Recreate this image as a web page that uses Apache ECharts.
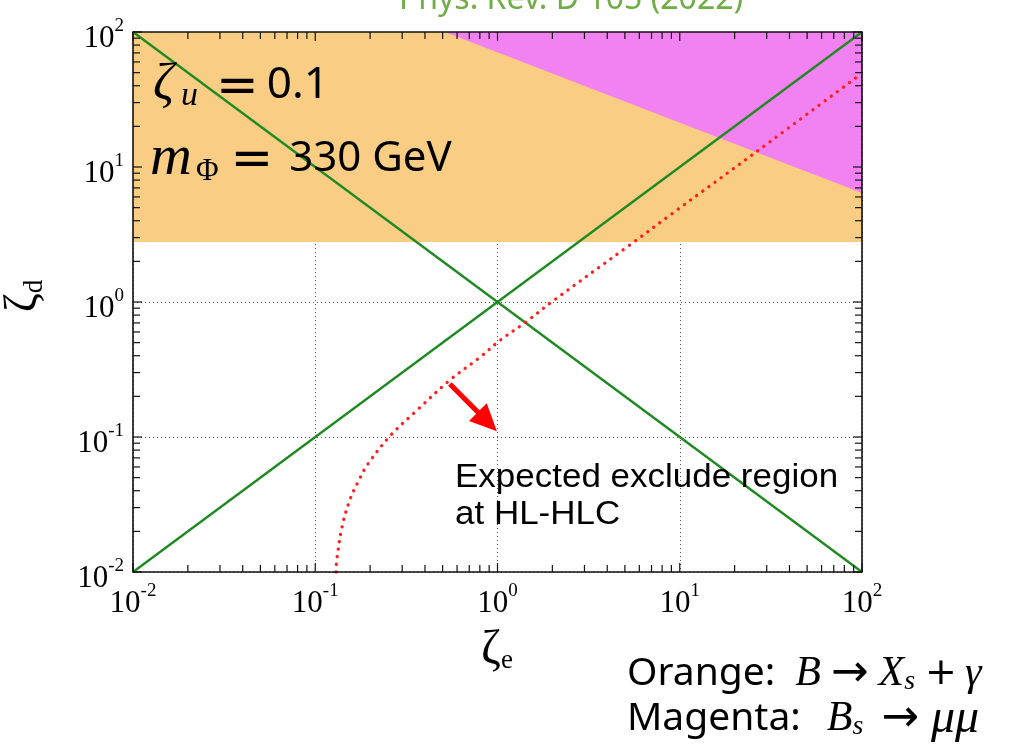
<!DOCTYPE html>
<html>
<head>
<meta charset="utf-8">
<script src="https://cdn.jsdelivr.net/npm/echarts@6/dist/echarts.min.js"></script>
<style>
  html, body { margin: 0; padding: 0; background: #ffffff; }
  #chart { width: 1017px; height: 744px; }
</style>
</head>
<body>
<div id="chart"></div>
<script>
// Axis ranges (log10 decades) and tick layout
const axisMin = 0.01;
const axisMax = 100;
const decadeExponents = [-2, -1, 0, 1, 2];
const minorMultipliers = [2, 3, 4, 5, 6, 7, 8, 9];

// Excluded by B -> Xs gamma: everything above this zeta_d
const orangeLowerEdge = 2.78;
// Excluded by Bs -> mu mu: above the straight (log-log) edge through these points
const magentaEdgeTop = [0.514, 100];
const magentaEdgeRight = [100, 6.41];

// Reference lines zeta_d = zeta_e and zeta_d = 1 / zeta_e
const lineRising = [[0.01, 0.01], [100, 100]];
const lineFalling = [[0.01, 100], [100, 0.01]];

// Expected HL-LHC reach (zeta_e, zeta_d)
const hllhcCurve = [
  [0.130, 0.0100], [0.131, 0.0121], [0.141, 0.0223], [0.156, 0.0352],
  [0.172, 0.0467], [0.193, 0.0621], [0.257, 0.1016], [0.360, 0.157],
  [0.548, 0.264], [0.800, 0.389], [1.04, 0.524], [1.40, 0.695],
  [2.02, 1.02], [5.17, 2.57], [9.13, 4.54], [25.8, 12.7], [95, 47]
];

// Arrow pointing into the excluded side of the curve
const arrowTail = [0.548, 0.247];
const arrowHead = [0.88, 0.130];

const orangeBand = [[axisMin, orangeLowerEdge], [axisMax, orangeLowerEdge], [axisMax, axisMax], [axisMin, axisMax]];
const magentaBand = [magentaEdgeTop, [axisMax, axisMax], magentaEdgeRight];

const chart = echarts.init(document.getElementById('chart'), null, { renderer: 'canvas' });

function polygonSeries(points, color, z) {
  return {
    type: 'custom',
    z: z,
    silent: true,
    data: points.map(function (p) { return [p[0], p[1]]; }),
    renderItem: function (params, api) {
      if (params.dataIndex !== 0) return null;
      return {
        type: 'polygon',
        shape: { points: points.map(function (p) { return api.coord(p); }) },
        style: { fill: color, stroke: null }
      };
    }
  };
}

function tickLabel(extra) {
  return Object.assign({
    formatter: function (v) {
      const e = Math.round(Math.log10(v));
      return '{b|10}{s|' + e + '}';
    },
    rich: {
      b: { fontFamily: 'Liberation Serif', fontSize: 31, lineHeight: 44, color: '#000' },
      s: { fontFamily: 'Liberation Serif', fontSize: 19, lineHeight: 19, verticalAlign: 'top', color: '#000' }
    }
  }, extra);
}

const gridLine = { show: true, lineStyle: { color: '#555', width: 1, type: [1, 3] } };

// Frame and inward ticks, on top of the filled regions
const frameSeries = {
  type: 'custom',
  z: 20,
  silent: true,
  data: [[axisMin, axisMin]],
  renderItem: function (params, api) {
    const bl = api.coord([axisMin, axisMin]);
    const tr = api.coord([axisMax, axisMax]);
    const children = [];
    const major = 9, minor = 7;
    const tickStyle = { stroke: '#111', lineWidth: 1.2 };
    decadeExponents.forEach(function (e, idx) {
      const v = Math.pow(10, e);
      const vals = [{ v: v, len: major }];
      if (idx < decadeExponents.length - 1) {
        minorMultipliers.forEach(function (m) { vals.push({ v: m * v, len: minor }); });
      }
      vals.forEach(function (t) {
        const px = api.coord([t.v, axisMin])[0];
        const py = api.coord([axisMin, t.v])[1];
        children.push({ type: 'line', shape: { x1: px, y1: bl[1], x2: px, y2: bl[1] - t.len }, style: tickStyle });
        children.push({ type: 'line', shape: { x1: px, y1: tr[1], x2: px, y2: tr[1] + t.len }, style: tickStyle });
        children.push({ type: 'line', shape: { x1: bl[0], y1: py, x2: bl[0] + t.len, y2: py }, style: tickStyle });
        children.push({ type: 'line', shape: { x1: tr[0], y1: py, x2: tr[0] - t.len, y2: py }, style: tickStyle });
      });
    });
    children.push({
      type: 'rect',
      shape: { x: bl[0], y: tr[1], width: tr[0] - bl[0], height: bl[1] - tr[1] },
      style: { fill: null, stroke: '#111', lineWidth: 1.6 }
    });
    return { type: 'group', children: children };
  }
};

// Text styles for the two process lines at the bottom right
const procRich = {
  a: { fontFamily: 'Noto Sans', fontSize: 39, lineHeight: 44, fill: '#000' },
  m: { fontFamily: 'Liberation Serif', fontStyle: 'italic', fontSize: 42, lineHeight: 44, fill: '#000' },
  s: { fontFamily: 'Liberation Serif', fontStyle: 'italic', fontSize: 28, lineHeight: 26, verticalAlign: 'bottom', fill: '#000' }
};
function procToken(base, extra) { return Object.assign({}, base, extra); }
const opGlyph = { fontFamily: 'DejaVu Sans', fontSize: 45, lineHeight: 44, fill: '#000' };

const option = {
  backgroundColor: '#ffffff',
  animation: false,
  grid: { left: 133, right: 155, top: 32, bottom: 172 },
  xAxis: {
    type: 'log', logBase: 10, min: axisMin, max: axisMax,
    axisLine: { show: false }, axisTick: { show: false },
    axisLabel: tickLabel({ margin: 10 }),
    splitLine: gridLine
  },
  yAxis: {
    type: 'log', logBase: 10, min: axisMin, max: axisMax,
    axisLine: { show: false }, axisTick: { show: false },
    axisLabel: tickLabel({ margin: 9, padding: [14, 0, 0, 0] }),
    splitLine: gridLine
  },
  series: [
    polygonSeries(orangeBand, '#f9ce84', 1),
    polygonSeries(magentaBand, '#f282f1', 2),
    {
      type: 'line', z: 5, data: lineRising, showSymbol: false, silent: true,
      lineStyle: { color: '#1f8a22', width: 2.4 }
    },
    {
      type: 'line', z: 5, data: lineFalling, showSymbol: false, silent: true,
      lineStyle: { color: '#1f8a22', width: 2.4 }
    },
    {
      type: 'line', z: 6, data: hllhcCurve, showSymbol: false, silent: true, smooth: 0.35,
      lineStyle: { color: '#ff1f1f', width: 3.3, type: [0.1, 7.5], cap: 'round' },
      markLine: {
        silent: true, animation: false,
        symbol: ['none', 'triangle'], symbolSize: [25, 27],
        label: { show: false },
        lineStyle: { color: '#ff0000', width: 5, type: 'solid' },
        data: [[{ coord: arrowTail }, { coord: arrowHead }]]
      }
    },
    frameSeries
  ],
  graphic: [
    {
      type: 'text', x: 571, y: 0, z: 50,
      style: { text: 'Phys. Rev. D 105 (2022)', fill: '#70ad47', font: '32px "Noto Sans"', align: 'center', verticalAlign: 'middle' }
    },
    {
      type: 'text', x: 153, y: 57, z: 50,
      style: {
        text: '{g|ζ}{sub|u}{eq|=}{t|0.1}',
        rich: {
          g: { fontFamily: 'Liberation Serif', fontStyle: 'italic', fontSize: 52, lineHeight: 56, fill: '#000' },
          sub: { fontFamily: 'Liberation Serif', fontStyle: 'italic', fontSize: 34, lineHeight: 30, padding: [0, 0, 0, 7], verticalAlign: 'bottom', fill: '#000' },
          eq: { fontFamily: 'DejaVu Sans', fontSize: 51, lineHeight: 40, padding: [8, 8, 0, 18], fill: '#000' },
          t: { fontFamily: 'Noto Sans', fontSize: 44, lineHeight: 56, fill: '#000' }
        }
      }
    },
    {
      type: 'text', x: 150, y: 131, z: 50,
      style: {
        text: '{g|m}{sub|Φ}{eq|=}{t|330 GeV}',
        rich: {
          g: { fontFamily: 'Liberation Serif', fontStyle: 'italic', fontSize: 58, lineHeight: 56, fill: '#000' },
          sub: { fontFamily: 'Liberation Serif', fontSize: 31, lineHeight: 30, padding: [0, 0, 0, 4], verticalAlign: 'bottom', fill: '#000' },
          eq: { fontFamily: 'DejaVu Sans', fontSize: 51, lineHeight: 40, padding: [6, 16, 0, 12], fill: '#000' },
          t: { fontFamily: 'Noto Sans', fontSize: 42, lineHeight: 56, fill: '#000' }
        }
      }
    },
    {
      type: 'text', x: 455, y: 459, z: 50, scaleX: 1.06,
      style: { text: 'Expected exclude region\nat HL-HLC', fill: '#000', font: '33px "Liberation Sans"', lineHeight: 37 }
    },
    {
      type: 'text', x: 24, y: 296, z: 50, rotation: Math.PI / 2,
      style: {
        text: '{g|ζ}{sub|d}', align: 'center', verticalAlign: 'middle',
        rich: {
          g: { fontFamily: 'Liberation Serif', fontSize: 46, lineHeight: 48, fill: '#000' },
          sub: { fontFamily: 'Liberation Serif', fontSize: 27, lineHeight: 24, verticalAlign: 'bottom', fill: '#000' }
        }
      }
    },
    {
      type: 'text', x: 497, y: 650, z: 50,
      style: {
        text: '{g|ζ}{sub|e}', align: 'center', verticalAlign: 'middle',
        rich: {
          g: { fontFamily: 'Liberation Serif', fontSize: 48, lineHeight: 48, fill: '#000' },
          sub: { fontFamily: 'Liberation Serif', fontSize: 27, lineHeight: 24, verticalAlign: 'bottom', fill: '#000' }
        }
      }
    },
    {
      type: 'text', x: 627, y: 652, z: 50,
      style: {
        text: '{a|Orange:}{mB|B}{r|→}{m|X}{s|s}{p|+}{m|γ}',
        rich: {
          a: procRich.a, m: procRich.m, s: procRich.s,
          mB: procToken(procRich.m, { padding: [0, 0, 0, 20] }),
          r: procToken(opGlyph, { padding: [0, 10, 0, 10] }),
          p: procToken(opGlyph, { fontSize: 38, padding: [0, 8, 0, 10] })
        }
      }
    },
    {
      type: 'text', x: 627, y: 697, z: 50,
      style: {
        text: '{a|Magenta:}{mB|B}{s|s}{r|→}{m|μμ}',
        rich: {
          a: procRich.a, m: procToken(procRich.m, { fontSize: 48 }), s: procRich.s,
          mB: procToken(procRich.m, { padding: [0, 0, 0, 26] }),
          r: procToken(opGlyph, { padding: [0, 12, 0, 18] })
        }
      }
    }
  ]
};

chart.setOption(option);
</script>
</body>
</html>
